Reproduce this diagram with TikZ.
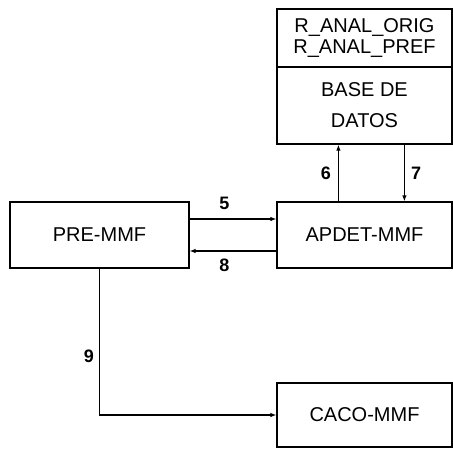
\documentclass[tikz,border=0pt]{standalone}
\usepackage{fontspec}
\setmainfont{Liberation Sans}
\usetikzlibrary{arrows.meta,positioning}

\begin{document}
\begin{tikzpicture}[
    x=1pt, y=-1pt,
    flow/.style={-{Latex[length=6pt,width=4.5pt]}, line width=1.2pt},
    mod/.style={draw, line width=1.2pt, align=center, inner sep=0pt,
        minimum width=175pt, minimum height=66pt, font=\fontsize{20}{21}\selectfont},
    lbl/.style={font=\fontsize{18}{20}\selectfont\bfseries, inner sep=1pt}
]
\useasboundingbox (0,0) rectangle (453,448);
% Base de datos
\node[mod, minimum height=58pt] (dbtop) at (364.5, 38) {R\_ANAL\_ORIG\\R\_ANAL\_PREF};
\node[mod, minimum height=77pt, font=\fontsize{20}{31}\selectfont] (dbbot) at (364.5, 105.5) {BASE DE\\DATOS};
% Modules
\node[mod, minimum width=179pt] (pre)   at (99.5, 235)  {PRE-MMF};
\node[mod]                      (apdet) at (364.5, 235) {APDET-MMF};
\node[mod, minimum height=64pt] (caco)  at (364.5, 415) {CACO-MMF};
% 5 / 8
\draw[flow] ([yshift=16pt]pre.east) -- node[above=8pt, lbl, pos=0.4] {5} ([yshift=16pt]apdet.west);
\draw[flow] ([yshift=-16pt]apdet.west) -- node[below=6pt, lbl, pos=0.6] {8} ([yshift=-16pt]pre.east);
% 6 / 7
\draw[flow] ([xshift=62pt]apdet.north west) -- node[left=6pt, lbl] {6} ([xshift=62pt]dbbot.south west);
\draw[flow] ([xshift=128pt]dbbot.south west) -- node[right=5pt, lbl] {7} ([xshift=128pt]apdet.north west);
% 9
\draw[flow] (pre.south) |- node[left=4pt, lbl, pos=0.3] {9} (caco.west);
\end{tikzpicture}
\end{document}
